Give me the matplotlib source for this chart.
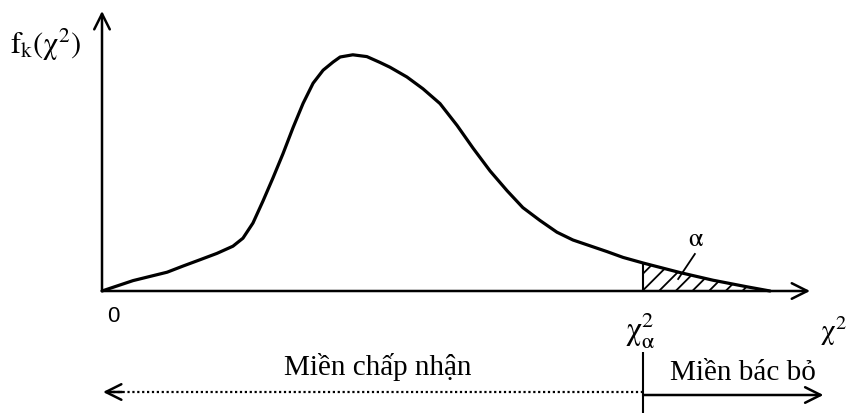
import numpy as np
import matplotlib
matplotlib.use("Agg")
import matplotlib.pyplot as plt

plt.rcParams["mathtext.fontset"] = "stix"
plt.rcParams["hatch.linewidth"] = 1.3

# chi-square density curve (traced shape, arbitrary units)
chi2 = [0.0, 0.93, 1.44, 1.95, 2.43, 2.93, 3.44, 3.92, 4.22, 4.52, 4.82, 5.12,
        5.42, 5.72, 6.02, 6.32, 6.62, 6.92, 7.13, 7.51, 7.93, 8.32, 8.62, 9.13,
        9.61, 10.12, 10.63, 11.11, 11.62, 12.13, 12.60, 13.11, 13.62, 14.10,
        14.61, 15.12, 15.60, 16.20, 17.31, 18.29, 19.31, 20.0]
dens = [0.0, 0.0052, 0.0073, 0.0094, 0.0125, 0.0156, 0.0188, 0.0224, 0.0264,
        0.0340, 0.0450, 0.0566, 0.0687, 0.0817, 0.0938, 0.1039, 0.1104, 0.1145,
        0.1170, 0.1181, 0.1172, 0.1143, 0.1119, 0.1070, 0.1011, 0.0937, 0.0828,
        0.0714, 0.0600, 0.0501, 0.0417, 0.0353, 0.0294, 0.0255, 0.0226, 0.0197,
        0.0168, 0.0140, 0.0092, 0.0054, 0.0021, 0.0]

chi2_alpha = 16.20  # critical value
x_end = 21.2        # tip of the horizontal axis
y_top = 0.140       # tip of the vertical axis

label_accept = "Miền chấp nhận"
label_reject = "Miền bác bỏ"

x = np.array(chi2)
f = np.array(dens)
tail = x >= chi2_alpha

fig = plt.figure(figsize=(8.48, 4.14), dpi=100)
ax = fig.add_axes([0, 0, 1, 1])
ax.set_xlim(-3.054, 22.335)
ax.set_ylim(-0.061, 0.146)
ax.axis("off")

arrow = dict(arrowstyle="->", lw=1.8, color="black", mutation_scale=28,
             shrinkA=0, shrinkB=0)

# axes
ax.annotate("", xy=(0, y_top), xytext=(0, 0), arrowprops=arrow)
ax.annotate("", xy=(x_end, 0), xytext=(0, 0), arrowprops=arrow)

# density curve
ax.plot(x, f, color="black", lw=2.3, solid_capstyle="round",
        solid_joinstyle="round")

# rejection tail
ax.fill_between(x[tail], 0, f[tail], facecolor="none", edgecolor="black",
                hatch="//", linewidth=0)
ax.vlines(chi2_alpha, 0, f[x == chi2_alpha][0], color="black", lw=1.5)
ax.plot([17.75, 17.25], [0.0185, 0.006], color="black", lw=1.3)
ax.text(17.55, 0.0265, r"$\mathrm{\alpha}$", fontsize=19, ha="left",
        va="center")

# labels
ax.text(-2.75, 0.1235, r"$\mathrm{f_k(\chi^2)}$", fontsize=22, ha="left",
        va="center")
ax.text(0.35, -0.012, "0", fontsize=16, family="Liberation Sans",
        ha="center", va="center")
ax.text(chi2_alpha - 0.1, -0.0195, r"$\mathrm{\chi^2_\alpha}$", fontsize=23,
        ha="center", va="center")
ax.text(21.5, -0.0195, r"$\mathrm{\chi^2}$", fontsize=21, ha="left",
        va="center")

# acceptance / rejection regions
y_acc = -0.0505
y_rej = -0.052
ax.vlines(chi2_alpha, -0.0305, -0.061, color="black", lw=1.5)
ax.plot([chi2_alpha, 0.3], [y_acc, y_acc], color="black", lw=1.6,
        linestyle=(0, (1, 1.2)))
ax.annotate("", xy=(0.03, y_acc), xytext=(0.6, y_acc), arrowprops=arrow)
ax.annotate("", xy=(21.6, y_rej), xytext=(chi2_alpha, y_rej), arrowprops=arrow)

ax.text(8.26, -0.0375, label_accept, fontsize=21, family="Liberation Serif",
        ha="center", va="center")
ax.text(19.19, -0.0405, label_reject, fontsize=21, family="Liberation Serif",
        ha="center", va="center")

fig.savefig("out.png", dpi=100, facecolor="white")
